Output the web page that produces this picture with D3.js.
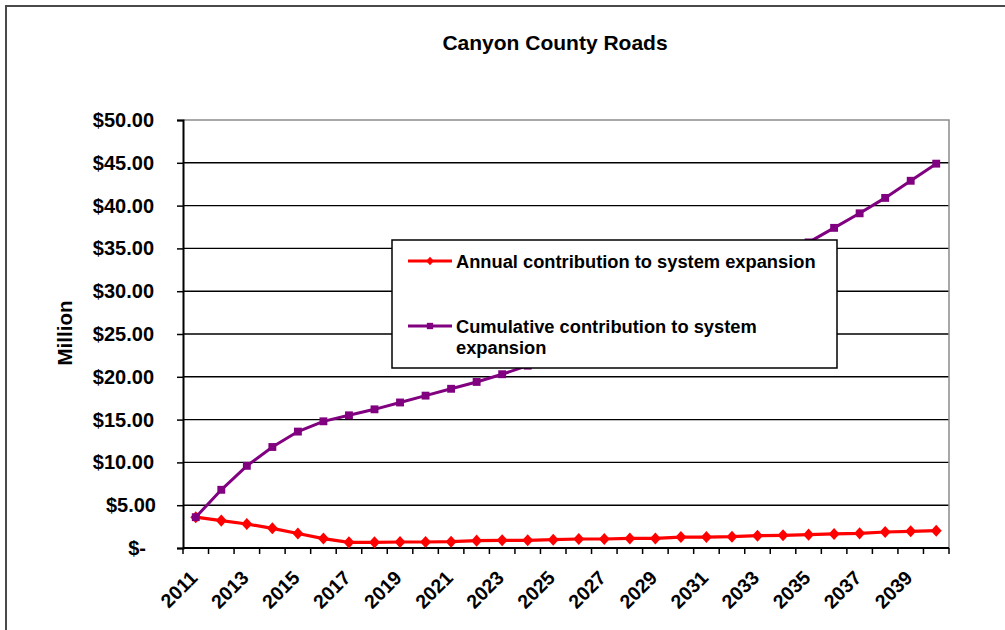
<!DOCTYPE html>
<html>
<head>
<meta charset="utf-8">
<script src="https://cdn.jsdelivr.net/npm/d3@7"></script>
<style>
  html, body { margin: 0; padding: 0; background: #fff; }
  svg { display: block; font-family: "Liberation Sans", Arial, sans-serif; font-weight: bold; }
</style>
</head>
<body>
<script>
// ---- Data ----
const years = ["2011","2012","2013","2014","2015","2016","2017","2018","2019","2020",
               "2021","2022","2023","2024","2025","2026","2027","2028","2029","2030",
               "2031","2032","2033","2034","2035","2036","2037","2038","2039","2040"];
const annual = [3.6, 3.2, 2.8, 2.3, 1.7, 1.1, 0.66, 0.66, 0.7, 0.7,
                0.74, 0.86, 0.9, 0.9, 0.97, 1.05, 1.05, 1.12, 1.12, 1.28,
                1.28, 1.32, 1.44, 1.48, 1.56, 1.64, 1.71, 1.87, 1.95, 2.02];
const cumulative = [3.6, 6.8, 9.6, 11.8, 13.6, 14.8, 15.5, 16.2, 17.0, 17.8,
                    18.6, 19.4, 20.3, 21.3, 22.3, 23.4, 24.5, 25.7, 26.9, 28.2,
                    29.6, 31.0, 32.5, 34.1, 35.7, 37.4, 39.1, 40.9, 42.9, 44.9];
const yTicks = [0, 5, 10, 15, 20, 25, 30, 35, 40, 45, 50];
const xLabels = ["2011","2013","2015","2017","2019","2021","2023","2025","2027","2029","2031","2033","2035","2037","2039"];
const seriesNames = ["Annual contribution to system expansion", "Cumulative contribution to system expansion"];
const title = "Canyon County Roads";
const yTitle = "Million";

// ---- Layout ----
const W = 1005, H = 630;
const plot = { left: 183, right: 949, top: 120, bottom: 548 };

const svg = d3.select("body").append("svg").attr("width", W).attr("height", H);

// outer chart frame
svg.append("rect").attr("x", 6).attr("y", 6).attr("width", 1020).attr("height", 650)
  .attr("fill", "none").attr("stroke", "#4a4a4a").attr("stroke-width", 2);

const x = d3.scaleBand().domain(years).range([plot.left, plot.right]).padding(0);
const y = d3.scaleLinear().domain([0, 50]).range([plot.bottom, plot.top]);
const cx = d => x(d) + x.bandwidth() / 2;

// gridlines
svg.append("g").selectAll("line").data(yTicks.filter(v => v > 0 && v < 50)).join("line")
  .attr("x1", plot.left).attr("x2", plot.right)
  .attr("y1", d => y(d)).attr("y2", d => y(d))
  .attr("stroke", "#000").attr("stroke-width", 1.4);

// plot border top/right (gray)
svg.append("path")
  .attr("d", `M${plot.left},${y(50)}H${plot.right}V${plot.bottom}`)
  .attr("fill", "none").attr("stroke", "#8c8c8c").attr("stroke-width", 1.5);

// y axis
const yAxis = d3.axisLeft(y).tickValues(yTicks).tickSize(6).tickPadding(23)
  .tickFormat(d => d === 0 ? "$-" : "$" + d3.format(".2f")(d));
const gy = svg.append("g").attr("transform", `translate(${plot.left},0)`).call(yAxis);
gy.select(".domain").attr("stroke", "#000").attr("stroke-width", 2);
gy.selectAll(".tick line").attr("stroke", "#000").attr("stroke-width", 1.5);
gy.selectAll(".tick text").attr("font-size", 20).attr("fill", "#000")
  .attr("font-family", "Liberation Sans, Arial, sans-serif").attr("font-weight", "bold")
  .attr("dx", d => d === 0 ? -8 : (d === 5 ? 2 : 0));

// x axis (ticks at category boundaries)
const boundaries = years.map(d => x(d)).concat([plot.right]);
const gx = svg.append("g");
gx.append("line").attr("x1", plot.left).attr("x2", plot.right)
  .attr("y1", plot.bottom).attr("y2", plot.bottom)
  .attr("stroke", "#000").attr("stroke-width", 2);
gx.selectAll("line.t").data(boundaries).join("line").attr("class", "t")
  .attr("x1", d => d).attr("x2", d => d)
  .attr("y1", plot.bottom).attr("y2", plot.bottom + 6)
  .attr("stroke", "#000").attr("stroke-width", 1.5);
gx.selectAll("text").data(xLabels).join("text")
  .attr("transform", d => `translate(${cx(d) + 3},${plot.bottom + 31}) rotate(-45)`)
  .attr("text-anchor", "end")
  .attr("font-size", 19.5).attr("fill", "#000")
  .text(d => d);

// symbols
const diamondType = {
  draw(ctx, size) {
    const w = Math.sqrt(size / 2) , h = w * 1.1;
    ctx.moveTo(0, -h); ctx.lineTo(w, 0); ctx.lineTo(0, h); ctx.lineTo(-w, 0); ctx.closePath();
  }
};

// series
const annualData = years.map((d, i) => ({ year: d, v: annual[i] }));
const cumData = years.map((d, i) => ({ year: d, v: cumulative[i] }));
const line = d3.line().x(d => cx(d.year)).y(d => y(d.v));

const diamond = d3.symbol().type(diamondType).size(60);
const square = d3.symbol().type(d3.symbolSquare).size(62);

svg.append("path").datum(annualData).attr("d", line)
  .attr("fill", "none").attr("stroke", "#ff0000").attr("stroke-width", 3.2);
svg.append("g").selectAll("path").data(annualData).join("path")
  .attr("d", diamond).attr("transform", d => `translate(${cx(d.year)},${y(d.v)})`)
  .attr("fill", "#ff0000");

svg.append("path").datum(cumData).attr("d", line)
  .attr("fill", "none").attr("stroke", "#800080").attr("stroke-width", 3);
svg.append("g").selectAll("path").data(cumData).join("path")
  .attr("d", square).attr("transform", d => `translate(${cx(d.year)},${y(d.v)})`)
  .attr("fill", "#800080");

// legend
const lg = svg.append("g");
lg.append("rect").attr("x", 392).attr("y", 240).attr("width", 445).attr("height", 128)
  .attr("fill", "#fff").attr("stroke", "#000").attr("stroke-width", 1.5);
const legendItems = [
  { color: "#ff0000", sym: d3.symbol().type(diamondType).size(30), ly: 261, lines: ["Annual contribution to system expansion"] },
  { color: "#800080", sym: d3.symbol().type(d3.symbolSquare).size(40), ly: 326, lines: ["Cumulative contribution to system", "expansion"] }
];
legendItems.forEach(it => {
  lg.append("line").attr("x1", 408).attr("x2", 452).attr("y1", it.ly).attr("y2", it.ly)
    .attr("stroke", it.color).attr("stroke-width", 3);
  lg.append("path").attr("d", it.sym).attr("transform", `translate(430,${it.ly})`).attr("fill", it.color);
  const t = lg.append("text").attr("x", 456).attr("y", it.ly + 6.5).attr("font-size", 18.3).attr("fill", "#000");
  it.lines.forEach((s, k) => t.append("tspan").attr("x", 456).attr("dy", k === 0 ? 0 : 21.5).text(s));
});

// title
svg.append("text").attr("x", 555).attr("y", 50).attr("text-anchor", "middle")
  .attr("font-size", 21).attr("fill", "#000").text(title);

// y title
svg.append("text").attr("transform", "translate(72,333) rotate(-90)").attr("text-anchor", "middle")
  .attr("font-size", 20.5).attr("fill", "#000").text(yTitle);
</script>
</body>
</html>
